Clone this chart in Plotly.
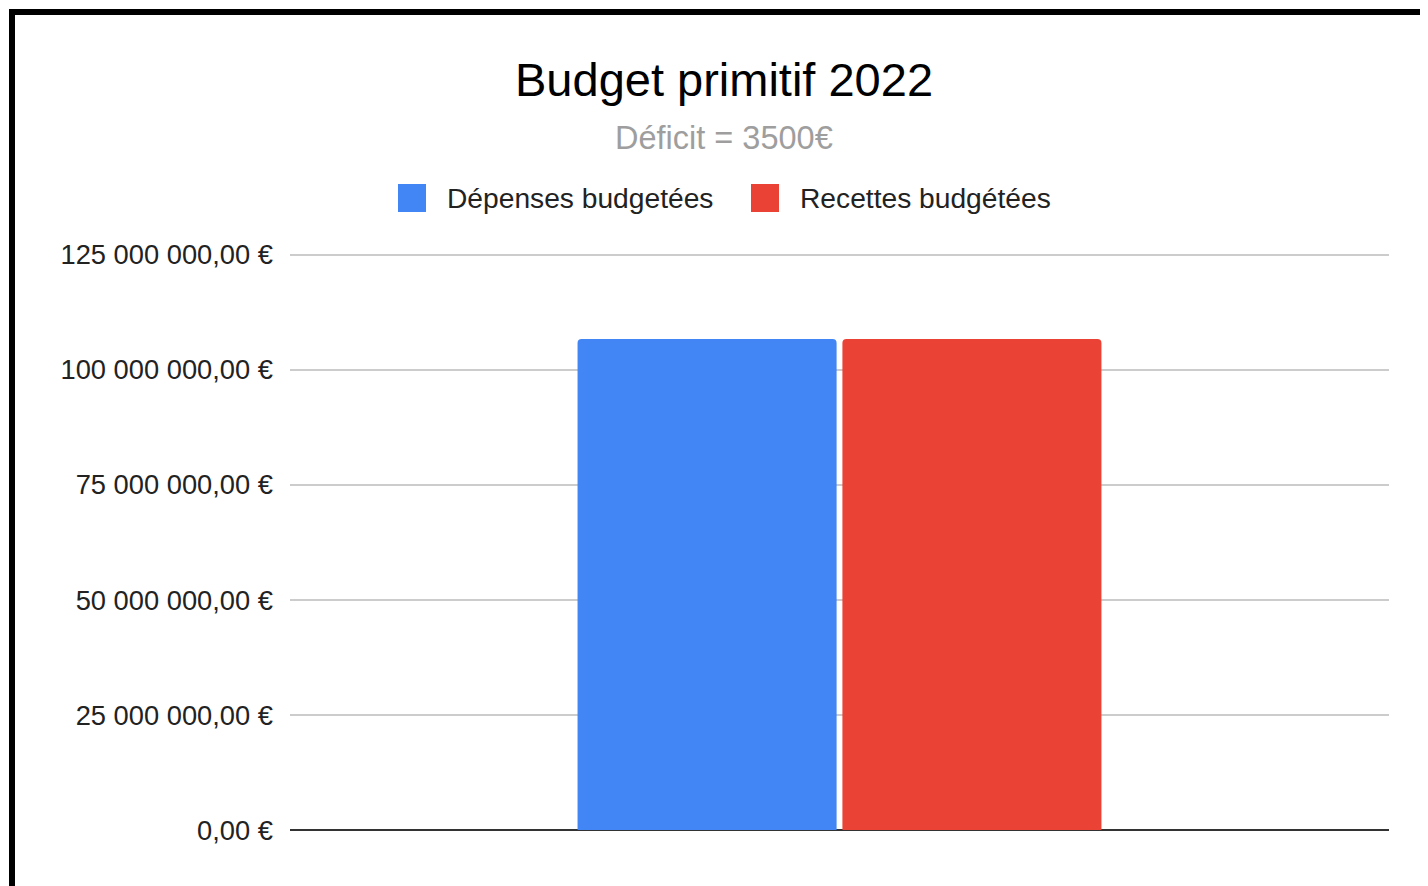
import plotly.graph_objects as go

# ---- data ----
categories = ["2022"]
series_names = ["Dépenses budgetées", "Recettes budgétées"]
depenses = [106700000]
recettes = [106696500]
series_colors = ["#4285f4", "#ea4335"]
tick_values = [0, 25000000, 50000000, 75000000, 100000000, 125000000]
tick_labels = ["0,00 €", "25 000 000,00 €", "50 000 000,00 €", "75 000 000,00 €",
               "100 000 000,00 €", "125 000 000,00 €"]
title_text = "Budget primitif 2022"
subtitle_text = "Déficit = 3500€"
y_max = 125400000

OFF = 8  # page body margin
W, H = 1428, 886
L, R, T, B = 290 - OFF, 47, 253 - OFF, 64
PW, PH = W - L - R, H - T - B


def px(x):
    return (x - OFF - L) / PW


def py(y):
    return (H - B - (y - OFF)) / PH


FONT = "Liberation Sans, Arial, sans-serif"

fig = go.Figure()
for name, vals, col in zip(series_names, [depenses, recettes], series_colors):
    fig.add_trace(go.Bar(x=categories, y=vals, name=name, marker_color=col,
                         marker_line_width=0, showlegend=False))

shapes = []
annotations = []
# outer black frame (cropped screenshot border)
shapes.append(dict(type="rect", xref="paper", yref="paper",
                   x0=px(12), x1=px(1440), y0=py(900), y1=py(12),
                   line=dict(color="black", width=6), fillcolor="rgba(0,0,0,0)", layer="above"))

annotations.append(dict(text=title_text, xref="paper", yref="paper", x=px(724), y=py(79),
                        xanchor="center", yanchor="middle", showarrow=False,
                        font=dict(family=FONT, size=47, color="#000000")))
annotations.append(dict(text=subtitle_text, xref="paper", yref="paper", x=px(724), y=py(138),
                        xanchor="center", yanchor="middle", showarrow=False,
                        font=dict(family=FONT, size=32.5, color="#9e9e9e")))

# legend drawn manually (large square keys)
legend_keys = [(398, 445), (751, 798)]
for (sx, tx), name, col in zip(legend_keys, series_names, series_colors):
    shapes.append(dict(type="rect", xref="paper", yref="paper",
                       x0=px(sx), x1=px(sx + 28), y0=py(212), y1=py(184),
                       line=dict(width=0), fillcolor=col))
    annotations.append(dict(text=name, xref="paper", yref="paper", x=px(tx), y=py(198),
                            xanchor="left", yanchor="middle", showarrow=False,
                            font=dict(family=FONT, size=28.2, color="#222222")))

fig.update_layout(
    width=W, height=H,
    margin=dict(l=L, r=R, t=T, b=B, autoexpand=False),
    paper_bgcolor="white", plot_bgcolor="white",
    barmode="group", bargap=0.518, bargroupgap=0.022,
    barcornerradius=4,
    shapes=shapes, annotations=annotations,
    showlegend=False,
    font=dict(family=FONT, size=26, color="#222222"),
)
fig.update_xaxes(showticklabels=False, showgrid=False, zeroline=False, showline=False,
                 range=[-0.5, 0.5])
fig.update_yaxes(range=[0, y_max], tickvals=tick_values, ticktext=tick_labels,
                 showgrid=True, gridcolor="#cccccc", gridwidth=2,
                 zeroline=True, zerolinecolor="#333333", zerolinewidth=2,
                 ticks="", ticklabelstandoff=16,
                 tickfont=dict(family=FONT, size=27.3, color="#222222"))

fig.write_html("out.html")
